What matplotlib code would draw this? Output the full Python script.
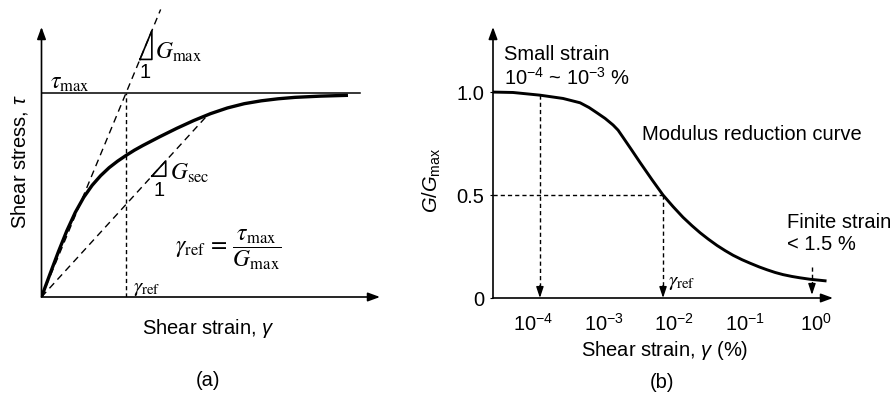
import matplotlib
matplotlib.use('Agg')
import matplotlib.pyplot as plt

plt.rcParams['font.family'] = ['Liberation Sans', 'DejaVu Sans']
plt.rcParams['mathtext.fontset'] = 'custom'
plt.rcParams['mathtext.rm'] = 'Liberation Sans'
plt.rcParams['mathtext.it'] = 'Liberation Sans:italic'
plt.rcParams['mathtext.bf'] = 'Liberation Sans:bold'

# ---------------- data ----------------
# Panel (a): normalised stress-strain curve (strain / gamma_ref, stress / tau_max)
strain_a = [0, 0.1, 0.2, 0.3, 0.4, 0.5, 0.6, 0.7, 0.8, 0.9, 1.0, 1.1, 1.2, 1.4, 1.6,
            1.8, 2.0, 2.2, 2.4, 2.6, 2.8, 3.0, 3.3, 3.627]
stress_a = [0, 0.112, 0.222, 0.325, 0.415, 0.489, 0.548, 0.595, 0.634, 0.666, 0.694,
            0.72, 0.743, 0.786, 0.827, 0.865, 0.899, 0.927, 0.948, 0.962, 0.972, 0.979,
            0.985, 0.989]
gamma_ref = 1.0
tau_max = 1.0
gmax_end = 1.41          # extent of the G_max tangent (strain)
sec_strain, sec_stress = 1.97, 0.894   # secant end point
tau_line_end = 3.77

# Panel (b): modulus reduction curve
strain_b = [2.74e-5, 5.25e-5, 1.26e-4, 2.67e-4, 4.65e-4, 6.22e-4, 8.07e-4, 1.05e-3,
            1.36e-3, 1.6e-3, 1.88e-3, 2.44e-3, 3.27e-3, 4.83e-3, 6.9e-3, 9.55e-3,
            1.32e-2, 1.77e-2, 2.30e-2, 3.0e-2, 4.0e-2, 5.2e-2, 6.73e-2, 9.0e-2, 0.117,
            0.157, 0.203, 0.264, 0.342, 0.458, 0.594, 0.822, 1.34]
ratio_b = [1.0, 0.998, 0.985, 0.969, 0.948, 0.925, 0.899, 0.872, 0.84, 0.815, 0.78,
           0.723, 0.658, 0.574, 0.5, 0.444, 0.392, 0.351, 0.317, 0.286, 0.255, 0.230,
           0.2075, 0.186, 0.169, 0.151, 0.137, 0.124, 0.1135, 0.1045, 0.098, 0.091, 0.0835]
small_strain = 1.26e-4
small_ratio = 0.985
ref_strain = 6.9e-3
ref_ratio = 0.5
finite_strain = 0.875
xticks_b = [1e-4, 1e-3, 1e-2, 1e-1, 1e0]
xticklabels_b = ['$10^{-4}$', '$10^{-3}$', '$10^{-2}$', '$10^{-1}$', '$10^{0}$']
yticks_b = [0, 0.5, 1.0]
yticklabels_b = ['0', '0.5', '1.0']

W, H = 893, 398
fig = plt.figure(figsize=(W / 100, H / 100), dpi=100)


def px(x, y):
    return x / W, 1 - y / H


def axes_px(x0, y_top, x1, y_bot):
    return fig.add_axes([x0 / W, 1 - y_bot / H, (x1 - x0) / W, (y_bot - y_top) / H])


def axis_arrows(ax):
    style = '-|>,head_length=0.6,head_width=0.22'
    for end in [(1, 0), (0, 1)]:
        ax.annotate('', xy=end, xytext=(0, 0), xycoords='axes fraction',
                    textcoords='axes fraction',
                    arrowprops=dict(arrowstyle=style, lw=1.2, color='k',
                                    mutation_scale=12, shrinkA=0, shrinkB=0),
                    annotation_clip=False)


FS = 14.5
MS = 17   # serif math size

# ---------------- panel (a) ----------------
axa = axes_px(41.5, 27, 380, 297)
axa.set_xlim(0, 4.006)
axa.set_ylim(0, 1.324)
for s in axa.spines.values():
    s.set_visible(False)
axa.set_xticks([])
axa.set_yticks([])
axis_arrows(axa)

axa.plot([0, tau_line_end], [tau_max, tau_max], color='k', lw=1.1, clip_on=False)
axa.plot([0, gmax_end], [0, gmax_end * tau_max / gamma_ref], color='k', lw=1.0,
         dashes=(5, 3.5), clip_on=False)
axa.plot([0, sec_strain], [0, sec_stress], color='k', lw=1.0, dashes=(5, 3.5))
axa.plot([gamma_ref, gamma_ref], [0, tau_max], color='k', lw=1.0, dashes=(3, 2.2))
axa.plot(strain_a, stress_a, color='k', lw=2.4, solid_capstyle='butt',
         solid_joinstyle='round')

# slope triangles
axa.plot([1.165, 1.306, 1.306, 1.165], [1.165, 1.165, 1.306, 1.165], color='k', lw=1.2)
k = sec_stress / sec_strain
axa.plot([1.306, 1.47, 1.47, 1.306], [1.306 * k, 1.306 * k, 1.47 * k, 1.306 * k],
         color='k', lw=1.2)

fig.text(*px(155, 52), r'$G_{\mathrm{max}}$', math_fontfamily='stix', fontsize=MS,
         ha='left', va='center')
fig.text(*px(145, 72), '1', fontsize=FS, ha='center', va='center')
fig.text(*px(170, 173), r'$G_{\mathrm{sec}}$', math_fontfamily='stix', fontsize=MS,
         ha='left', va='center')
fig.text(*px(159, 191), '1', fontsize=FS, ha='center', va='center')
fig.text(*px(50, 83), r'$\tau_{\mathrm{max}}$', math_fontfamily='stix', fontsize=MS,
         ha='left', va='center')
fig.text(*px(133, 289), r'$\gamma_{\mathrm{ref}}$', math_fontfamily='stix', fontsize=MS - 2,
         ha='left', va='center')
fig.text(*px(175, 250), r'$\gamma_{\mathrm{ref}}\, =\, \dfrac{\tau_{\mathrm{max}}}{G_{\mathrm{max}}}$',
         math_fontfamily='stix', fontsize=MS, ha='left', va='center')

fig.text(*px(20, 162), 'Shear stress, $\\tau$', fontsize=FS, rotation=90,
         ha='center', va='center')
fig.text(*px(208, 329), 'Shear strain, $\\gamma$', fontsize=FS, ha='center', va='center')
fig.text(*px(208, 380), '(a)', fontsize=FS, ha='center', va='center')

# ---------------- panel (b) ----------------
axb = axes_px(493, 27, 833, 298)
axb.set_xscale('log')
axb.set_xlim(2.74e-5, 1.734)
axb.set_ylim(0, 1.316)
for s in axb.spines.values():
    s.set_visible(False)
axis_arrows(axb)
axb.set_xticks(xticks_b)
axb.set_xticklabels(xticklabels_b, fontsize=FS)
axb.minorticks_off()
axb.tick_params(axis='x', length=0, pad=11)
axb.set_yticks(yticks_b)
axb.set_yticklabels(yticklabels_b, fontsize=FS)
axb.tick_params(axis='y', length=2.5, width=0.8, pad=4)

axb.plot(strain_b, ratio_b, color='k', lw=2.1, solid_joinstyle='round')

dash_b = (3, 2.2)
axb.plot([small_strain, small_strain], [small_ratio, 0.05], color='k', lw=1.0, dashes=dash_b)
axb.plot([2.74e-5, ref_strain], [ref_ratio, ref_ratio], color='k', lw=1.0, dashes=dash_b)
axb.plot([ref_strain, ref_strain], [ref_ratio, 0.05], color='k', lw=1.0, dashes=dash_b)
axb.plot([finite_strain, finite_strain], [0.15, 0.06], color='k', lw=1.0, dashes=dash_b)

head = '-|>,head_length=0.6,head_width=0.2'
for xs, y0, y1 in [(small_strain, 0.06, 0.0), (ref_strain, 0.06, 0.0),
                   (finite_strain, 0.07, 0.015)]:
    axb.annotate('', xy=(xs, y1), xytext=(xs, y0),
                 arrowprops=dict(arrowstyle=head, lw=1.0, color='k',
                                 mutation_scale=11, shrinkA=0, shrinkB=0))

fig.text(*px(668, 283), r'$\gamma_{\mathrm{ref}}$', math_fontfamily='stix', fontsize=MS - 2,
         ha='left', va='center')
fig.text(*px(504, 54), 'Small strain', fontsize=FS, ha='left', va='center')
fig.text(*px(504, 78), '$10^{-4}$ ~ $10^{-3}$ %', fontsize=FS, ha='left', va='center')
fig.text(*px(642, 135), 'Modulus reduction curve', fontsize=FS, ha='left', va='center')
fig.text(*px(787, 222), 'Finite strain', fontsize=FS, ha='left', va='center')
fig.text(*px(787, 245), '< 1.5 %', fontsize=FS, ha='left', va='center')

fig.text(*px(432, 180), '$G/G_{\\mathrm{max}}$', fontsize=FS, rotation=90,
         ha='center', va='center')
fig.text(*px(665, 350), 'Shear strain, $\\gamma$ (%)', fontsize=FS, ha='center', va='center')
fig.text(*px(662, 382), '(b)', fontsize=FS, ha='center', va='center')

fig.savefig('out.png', dpi=100)
